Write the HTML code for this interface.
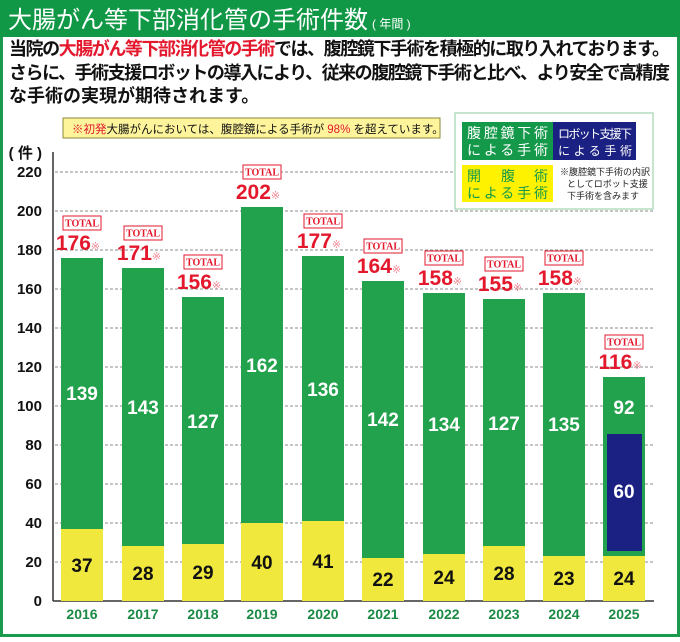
<!DOCTYPE html>
<html><head><meta charset="utf-8"><style>
body{margin:0;width:680px;height:637px;overflow:hidden;background:#fff;font-family:"Liberation Sans","Noto Sans CJK JP",sans-serif}
</style></head><body>
<svg width="680" height="637" xmlns="http://www.w3.org/2000/svg" font-family="Liberation Sans, Noto Sans CJK JP, sans-serif">
<rect x="1.5" y="1.5" width="677" height="634" fill="#fff" stroke="#1a9a4e" stroke-width="3"/>
<rect x="0" y="0" width="680" height="37" fill="#109846"/>
<text x="8" y="28" font-size="24" fill="#fff">大腸がん等下部消化管の手術件数<tspan font-size="12" dx="4">( 年間 )</tspan></text>
<g font-size="18" font-weight="bold" fill="#111">
<text x="9" y="55" textLength="661">当院の<tspan fill="#e3182d">大腸がん等下部消化管の手術</tspan>では、腹腔鏡下手術を積極的に取り入れております。</text>
<text x="9" y="79" textLength="661">さらに、手術支援ロボットの導入により、従来の腹腔鏡下手術と比べ、より安全で高精度</text>
<text x="9" y="102">な手術の実現が期待されます。</text>
</g>
<g stroke="#666" stroke-dasharray="3,2" stroke-width="0.8">
<line x1="55" x2="653" y1="172" y2="172"/><line x1="55" x2="653" y1="211" y2="211"/><line x1="55" x2="653" y1="250" y2="250"/><line x1="55" x2="653" y1="289" y2="289"/><line x1="55" x2="653" y1="328" y2="328"/><line x1="55" x2="653" y1="367" y2="367"/><line x1="55" x2="653" y1="406" y2="406"/><line x1="55" x2="653" y1="445" y2="445"/><line x1="55" x2="653" y1="484" y2="484"/><line x1="55" x2="653" y1="523" y2="523"/><line x1="55" x2="653" y1="562" y2="562"/>
</g>
<line x1="53" y1="152" x2="53" y2="601" stroke="#333" stroke-width="1.5"/>
<line x1="53" y1="601" x2="654" y2="601" stroke="#333" stroke-width="1.5"/>
<g font-size="15" font-weight="bold" fill="#111" text-anchor="end">
<text x="42" y="158">( 件 )</text>
<text x="42" y="177">220</text><text x="42" y="216">200</text><text x="42" y="255">180</text><text x="42" y="294">160</text><text x="42" y="333">140</text><text x="42" y="372">120</text><text x="42" y="411">100</text><text x="42" y="450">80</text><text x="42" y="489">60</text><text x="42" y="528">40</text><text x="42" y="567">20</text><text x="42" y="606">0</text>
</g>
<rect x="63" y="118" width="377" height="20" fill="#fdf49c" stroke="#8a8a3a" stroke-width="1"/>
<text x="72" y="133" font-size="11.5" fill="#111"><tspan fill="#e3182d">※初発</tspan>大腸がんにおいては、腹腔鏡による手術が <tspan fill="#e3182d">98%</tspan> を超えています。</text>
<rect x="455" y="113" width="198" height="96" fill="#fff" stroke="#9fd4b0" stroke-width="1.2"/>
<rect x="462" y="122" width="91" height="38" fill="#14994a"/>
<rect x="553" y="122" width="83" height="38" fill="#1b2183"/>
<rect x="462" y="165" width="91" height="37" fill="#fff200"/>
<g font-size="14" fill="#fff"><text x="467" y="138" textLength="81">腹腔鏡下術</text><text x="467" y="155" textLength="81">による手術</text></g>
<g font-size="12" fill="#fff"><text x="558" y="138" textLength="74">ロボット支援下</text><text x="558" y="155" textLength="74">による手術</text></g>
<g font-size="14" fill="#14994a"><text x="467" y="181">開</text><text x="501" y="181">腹</text><text x="534" y="181">術</text><text x="467" y="198" textLength="81">による手術</text></g>
<g font-size="9" fill="#222"><text x="560" y="175">※腹腔鏡下手術の内訳</text><text x="567" y="187">としてロボット支援</text><text x="567" y="199">下手術を含みます</text></g>
<g font-weight="bold" text-anchor="middle">
<rect x="61" y="258" width="42" height="271" fill="#23a24d"/><rect x="61" y="529" width="42" height="72" fill="#f0e83c"/>
<text x="82" y="400" font-size="19" fill="#fff">139</text><text x="82" y="572" font-size="19" fill="#111">37</text>
<rect x="122" y="268" width="42" height="279" fill="#23a24d"/><rect x="122" y="546" width="42" height="55" fill="#f0e83c"/>
<text x="143" y="414" font-size="19" fill="#fff">143</text><text x="143" y="580" font-size="19" fill="#111">28</text>
<rect x="182" y="297" width="42" height="248" fill="#23a24d"/><rect x="182" y="544" width="42" height="57" fill="#f0e83c"/>
<text x="203" y="428" font-size="19" fill="#fff">127</text><text x="203" y="579" font-size="19" fill="#111">29</text>
<rect x="241" y="207" width="42" height="316" fill="#23a24d"/><rect x="241" y="523" width="42" height="78" fill="#f0e83c"/>
<text x="262" y="372" font-size="19" fill="#fff">162</text><text x="262" y="569" font-size="19" fill="#111">40</text>
<rect x="302" y="256" width="42" height="266" fill="#23a24d"/><rect x="302" y="521" width="42" height="80" fill="#f0e83c"/>
<text x="323" y="396" font-size="19" fill="#fff">136</text><text x="323" y="568" font-size="19" fill="#111">41</text>
<rect x="362" y="281" width="42" height="278" fill="#23a24d"/><rect x="362" y="558" width="42" height="43" fill="#f0e83c"/>
<text x="383" y="426" font-size="19" fill="#fff">142</text><text x="383" y="586" font-size="19" fill="#111">22</text>
<rect x="423" y="293" width="42" height="262" fill="#23a24d"/><rect x="423" y="554" width="42" height="47" fill="#f0e83c"/>
<text x="444" y="431" font-size="19" fill="#fff">134</text><text x="444" y="584" font-size="19" fill="#111">24</text>
<rect x="483" y="299" width="42" height="248" fill="#23a24d"/><rect x="483" y="546" width="42" height="55" fill="#f0e83c"/>
<text x="504" y="430" font-size="19" fill="#fff">127</text><text x="504" y="580" font-size="19" fill="#111">28</text>
<rect x="543" y="293" width="42" height="264" fill="#23a24d"/><rect x="543" y="556" width="42" height="45" fill="#f0e83c"/>
<text x="564" y="431" font-size="19" fill="#fff">135</text><text x="564" y="585" font-size="19" fill="#111">23</text>
<rect x="603" y="377" width="42" height="180" fill="#23a24d"/><rect x="603" y="556" width="42" height="45" fill="#f0e83c"/>
<rect x="607" y="434" width="35" height="117" fill="#1b2183"/>
<text x="624" y="414" font-size="19" fill="#fff">92</text><text x="624" y="498" font-size="19" fill="#fff">60</text><text x="624" y="585" font-size="19" fill="#111">24</text>
</g>
<g text-anchor="middle" font-family="Liberation Serif,serif">
<g transform="translate(82,258)"><rect x="-19" y="-42" width="38" height="14" fill="#fff" stroke="#e3182d"/><text y="-31.5" font-size="10" font-weight="bold" fill="#e3182d">TOTAL</text><text x="-4" y="-8" font-size="21" font-weight="bold" font-family="Liberation Sans,sans-serif" fill="#e3182d">176<tspan font-size="11" fill="#f08a96" font-weight="normal">※</tspan></text></g>
<g transform="translate(143,268)"><rect x="-19" y="-42" width="38" height="14" fill="#fff" stroke="#e3182d"/><text y="-31.5" font-size="10" font-weight="bold" fill="#e3182d">TOTAL</text><text x="-4" y="-8" font-size="21" font-weight="bold" font-family="Liberation Sans,sans-serif" fill="#e3182d">171<tspan font-size="11" fill="#f08a96" font-weight="normal">※</tspan></text></g>
<g transform="translate(203,297)"><rect x="-19" y="-42" width="38" height="14" fill="#fff" stroke="#e3182d"/><text y="-31.5" font-size="10" font-weight="bold" fill="#e3182d">TOTAL</text><text x="-4" y="-8" font-size="21" font-weight="bold" font-family="Liberation Sans,sans-serif" fill="#e3182d">156<tspan font-size="11" fill="#f08a96" font-weight="normal">※</tspan></text></g>
<g transform="translate(262,207)"><rect x="-19" y="-42" width="38" height="14" fill="#fff" stroke="#e3182d"/><text y="-31.5" font-size="10" font-weight="bold" fill="#e3182d">TOTAL</text><text x="-4" y="-8" font-size="21" font-weight="bold" font-family="Liberation Sans,sans-serif" fill="#e3182d">202<tspan font-size="11" fill="#f08a96" font-weight="normal">※</tspan></text></g>
<g transform="translate(323,256)"><rect x="-19" y="-42" width="38" height="14" fill="#fff" stroke="#e3182d"/><text y="-31.5" font-size="10" font-weight="bold" fill="#e3182d">TOTAL</text><text x="-4" y="-8" font-size="21" font-weight="bold" font-family="Liberation Sans,sans-serif" fill="#e3182d">177<tspan font-size="11" fill="#f08a96" font-weight="normal">※</tspan></text></g>
<g transform="translate(383,281)"><rect x="-19" y="-42" width="38" height="14" fill="#fff" stroke="#e3182d"/><text y="-31.5" font-size="10" font-weight="bold" fill="#e3182d">TOTAL</text><text x="-4" y="-8" font-size="21" font-weight="bold" font-family="Liberation Sans,sans-serif" fill="#e3182d">164<tspan font-size="11" fill="#f08a96" font-weight="normal">※</tspan></text></g>
<g transform="translate(444,293)"><rect x="-19" y="-42" width="38" height="14" fill="#fff" stroke="#e3182d"/><text y="-31.5" font-size="10" font-weight="bold" fill="#e3182d">TOTAL</text><text x="-4" y="-8" font-size="21" font-weight="bold" font-family="Liberation Sans,sans-serif" fill="#e3182d">158<tspan font-size="11" fill="#f08a96" font-weight="normal">※</tspan></text></g>
<g transform="translate(504,299)"><rect x="-19" y="-42" width="38" height="14" fill="#fff" stroke="#e3182d"/><text y="-31.5" font-size="10" font-weight="bold" fill="#e3182d">TOTAL</text><text x="-4" y="-8" font-size="21" font-weight="bold" font-family="Liberation Sans,sans-serif" fill="#e3182d">155<tspan font-size="11" fill="#f08a96" font-weight="normal">※</tspan></text></g>
<g transform="translate(564,293)"><rect x="-19" y="-42" width="38" height="14" fill="#fff" stroke="#e3182d"/><text y="-31.5" font-size="10" font-weight="bold" fill="#e3182d">TOTAL</text><text x="-4" y="-8" font-size="21" font-weight="bold" font-family="Liberation Sans,sans-serif" fill="#e3182d">158<tspan font-size="11" fill="#f08a96" font-weight="normal">※</tspan></text></g>
<g transform="translate(624,377)"><rect x="-19" y="-42" width="38" height="14" fill="#fff" stroke="#e3182d"/><text y="-31.5" font-size="10" font-weight="bold" fill="#e3182d">TOTAL</text><text x="-4" y="-8" font-size="21" font-weight="bold" font-family="Liberation Sans,sans-serif" fill="#e3182d">116<tspan font-size="11" fill="#f08a96" font-weight="normal">※</tspan></text></g>
</g>
<g font-size="14" font-weight="bold" fill="#1a8a45" text-anchor="middle">
<text x="82" y="619">2016</text><text x="143" y="619">2017</text><text x="203" y="619">2018</text><text x="262" y="619">2019</text><text x="323" y="619">2020</text><text x="383" y="619">2021</text><text x="444" y="619">2022</text><text x="504" y="619">2023</text><text x="564" y="619">2024</text><text x="624" y="619">2025</text>
</g>
</svg>
</body></html>
